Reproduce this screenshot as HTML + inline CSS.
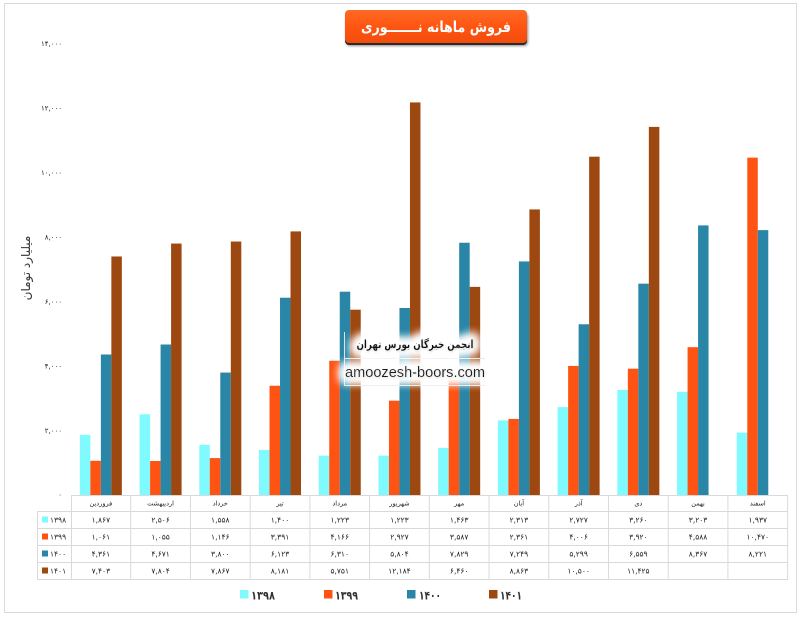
<!DOCTYPE html>
<html>
<head>
<meta charset="utf-8">
<style>
html,body{margin:0;padding:0;background:#fff;}
svg{display:block;}
text{font-family:"DejaVu Sans","Liberation Sans",sans-serif;}
</style>
</head>
<body>
<svg width="800" height="618" viewBox="0 0 800 618" xmlns="http://www.w3.org/2000/svg">
<defs>
<linearGradient id="tg" x1="0" y1="0" x2="0" y2="1">
<stop offset="0" stop-color="#ff6a24"/>
<stop offset="0.5" stop-color="#ff5512"/>
<stop offset="1" stop-color="#f24c0c"/>
</linearGradient>
<filter id="sh" x="-10%" y="-30%" width="120%" height="160%">
<feGaussianBlur stdDeviation="1.2"/>
</filter>
<filter id="glow" x="-20%" y="-100%" width="140%" height="300%">
<feMorphology in="SourceAlpha" operator="dilate" radius="4" result="d"/>
<feGaussianBlur in="d" stdDeviation="5" result="b"/>
<feFlood flood-color="#ffffff"/>
<feComposite in2="b" operator="in" result="w"/>
<feGaussianBlur in="SourceAlpha" stdDeviation="1" result="sb"/>
<feOffset in="sb" dx="0.5" dy="1" result="so"/>
<feFlood flood-color="#000" flood-opacity="0.35"/>
<feComposite in2="so" operator="in" result="ds"/>
<feMerge>
<feMergeNode in="w"/>
<feMergeNode in="w"/>
<feMergeNode in="w"/>
<feMergeNode in="ds"/>
<feMergeNode in="SourceGraphic"/>
</feMerge>
</filter>
</defs>
<rect x="0" y="0" width="800" height="618" fill="#fff"/>
<rect x="4.5" y="3.5" width="792" height="609" fill="none" stroke="#d9d9d9" stroke-width="1"/>

<!-- Title -->
<rect x="346" y="13" width="182" height="33" rx="4" fill="#000" opacity="0.45" filter="url(#sh)"/>
<rect x="345" y="12" width="182" height="33" rx="4" fill="#2a2a2a"/>
<rect x="345" y="10" width="182" height="33" rx="4" fill="url(#tg)"/>
<text x="436" y="32" font-size="15" font-weight="bold" fill="#fff" text-anchor="middle" direction="rtl" textLength="150" lengthAdjust="spacingAndGlyphs">فروش ماهانه نـــــــوری</text>

<!-- Y axis labels -->
<g font-size="7" fill="#222" text-anchor="end">
<text x="62" y="497">۰</text>
<text x="62" y="433">۲,۰۰۰</text>
<text x="62" y="368.5">۴,۰۰۰</text>
<text x="62" y="304">۶,۰۰۰</text>
<text x="62" y="239.5">۸,۰۰۰</text>
<text x="62" y="175">۱۰,۰۰۰</text>
<text x="62" y="110.5">۱۲,۰۰۰</text>
<text x="62" y="46">۱۴,۰۰۰</text>
</g>
<text transform="translate(30,268) rotate(-90)" font-size="12" fill="#333" text-anchor="middle" direction="rtl">میلیارد تومان</text>

<!-- Bars -->
<g>
<g transform="translate(79.86,0)">
<rect x="0" y="434.85" width="10.5" height="60.15" fill="#7ffaff"/>
<rect x="10.5" y="460.81" width="10.5" height="34.19" fill="#ff5314"/>
<rect x="21" y="354.49" width="10.5" height="140.51" fill="#2986a7"/>
<rect x="31.5" y="256.48" width="10.5" height="238.52" fill="#9e4811"/>
</g>
<g transform="translate(139.58,0)">
<rect x="0" y="414.26" width="10.5" height="80.74" fill="#7ffaff"/>
<rect x="10.5" y="461.01" width="10.5" height="33.99" fill="#ff5314"/>
<rect x="21" y="344.5" width="10.5" height="150.5" fill="#2986a7"/>
<rect x="31.5" y="243.56" width="10.5" height="251.44" fill="#9e4811"/>
</g>
<g transform="translate(199.30,0)">
<rect x="0" y="444.8" width="10.5" height="50.2" fill="#7ffaff"/>
<rect x="10.5" y="458.08" width="10.5" height="36.92" fill="#ff5314"/>
<rect x="21" y="372.56" width="10.5" height="122.44" fill="#2986a7"/>
<rect x="31.5" y="241.53" width="10.5" height="253.47" fill="#9e4811"/>
</g>
<g transform="translate(259.02,0)">
<rect x="0" y="449.89" width="10.5" height="45.11" fill="#7ffaff"/>
<rect x="10.5" y="385.74" width="10.5" height="109.26" fill="#ff5314"/>
<rect x="21" y="297.72" width="10.5" height="197.28" fill="#2986a7"/>
<rect x="31.5" y="231.41" width="10.5" height="263.59" fill="#9e4811"/>
</g>
<g transform="translate(318.74,0)">
<rect x="0" y="455.6" width="10.5" height="39.4" fill="#7ffaff"/>
<rect x="10.5" y="360.77" width="10.5" height="134.23" fill="#ff5314"/>
<rect x="21" y="291.69" width="10.5" height="203.31" fill="#2986a7"/>
<rect x="31.5" y="309.7" width="10.5" height="185.3" fill="#9e4811"/>
</g>
<g transform="translate(378.46,0)">
<rect x="0" y="455.6" width="10.5" height="39.4" fill="#7ffaff"/>
<rect x="10.5" y="400.69" width="10.5" height="94.31" fill="#ff5314"/>
<rect x="21" y="308.0" width="10.5" height="187.0" fill="#2986a7"/>
<rect x="31.5" y="102.43" width="10.5" height="392.57" fill="#9e4811"/>
</g>
<g transform="translate(438.18,0)">
<rect x="0" y="447.86" width="10.5" height="47.14" fill="#7ffaff"/>
<rect x="10.5" y="379.43" width="10.5" height="115.57" fill="#ff5314"/>
<rect x="21" y="242.75" width="10.5" height="252.25" fill="#2986a7"/>
<rect x="31.5" y="286.86" width="10.5" height="208.14" fill="#9e4811"/>
</g>
<g transform="translate(497.90,0)">
<rect x="0" y="420.47" width="10.5" height="74.53" fill="#7ffaff"/>
<rect x="10.5" y="418.93" width="10.5" height="76.07" fill="#ff5314"/>
<rect x="21" y="261.44" width="10.5" height="233.56" fill="#2986a7"/>
<rect x="31.5" y="209.43" width="10.5" height="285.57" fill="#9e4811"/>
</g>
<g transform="translate(557.62,0)">
<rect x="0" y="407.14" width="10.5" height="87.86" fill="#7ffaff"/>
<rect x="10.5" y="365.93" width="10.5" height="129.07" fill="#ff5314"/>
<rect x="21" y="324.27" width="10.5" height="170.73" fill="#2986a7"/>
<rect x="31.5" y="156.69" width="10.5" height="338.31" fill="#9e4811"/>
</g>
<g transform="translate(617.34,0)">
<rect x="0" y="389.96" width="10.5" height="105.04" fill="#7ffaff"/>
<rect x="10.5" y="368.7" width="10.5" height="126.3" fill="#ff5314"/>
<rect x="21" y="283.67" width="10.5" height="211.33" fill="#2986a7"/>
<rect x="31.5" y="126.89" width="10.5" height="368.11" fill="#9e4811"/>
</g>
<g transform="translate(677.06,0)">
<rect x="0" y="391.8" width="10.5" height="103.2" fill="#7ffaff"/>
<rect x="10.5" y="347.17" width="10.5" height="147.83" fill="#ff5314"/>
<rect x="21" y="225.42" width="10.5" height="269.58" fill="#2986a7"/>
</g>
<g transform="translate(736.78,0)">
<rect x="0" y="432.59" width="10.5" height="62.41" fill="#7ffaff"/>
<rect x="10.5" y="157.66" width="10.5" height="337.34" fill="#ff5314"/>
<rect x="21" y="230.12" width="10.5" height="264.88" fill="#2986a7"/>
</g>
</g>

<!-- Watermark -->
<g stroke="#e2e2e2" stroke-width="1">
<line x1="344.5" y1="332" x2="344.5" y2="386"/>
<line x1="344" y1="358.5" x2="485" y2="358.5"/>
<line x1="344" y1="385.5" x2="485" y2="385.5"/>
</g>
<text x="415" y="348" font-size="11" font-weight="bold" fill="#111" text-anchor="middle" direction="rtl" textLength="117" lengthAdjust="spacingAndGlyphs" filter="url(#glow)">انجمن خبرگان بورس تهران</text>
<text x="415" y="377" font-size="14.5" fill="#1a1a1a" text-anchor="middle" textLength="140" lengthAdjust="spacingAndGlyphs" style="font-family:'Liberation Sans',sans-serif" filter="url(#glow)">amoozesh-boors.com</text>

<!-- Table lines -->
<g stroke="#d9d9d9" stroke-width="1" fill="none">
<line x1="71" y1="495.5" x2="788" y2="495.5"/>
<line x1="37" y1="511.5" x2="788" y2="511.5"/>
<line x1="37" y1="528.5" x2="788" y2="528.5"/>
<line x1="37" y1="545.5" x2="788" y2="545.5"/>
<line x1="37" y1="562.5" x2="788" y2="562.5"/>
<line x1="37" y1="579.5" x2="788" y2="579.5"/>
<line x1="37.5" y1="511" x2="37.5" y2="580"/>
<line x1="71.5" y1="495" x2="71.5" y2="580"/>
<line x1="130.72" y1="495" x2="130.72" y2="580"/>
<line x1="190.44" y1="495" x2="190.44" y2="580"/>
<line x1="250.16" y1="495" x2="250.16" y2="580"/>
<line x1="309.88" y1="495" x2="309.88" y2="580"/>
<line x1="369.6" y1="495" x2="369.6" y2="580"/>
<line x1="429.32" y1="495" x2="429.32" y2="580"/>
<line x1="489.04" y1="495" x2="489.04" y2="580"/>
<line x1="548.76" y1="495" x2="548.76" y2="580"/>
<line x1="608.48" y1="495" x2="608.48" y2="580"/>
<line x1="668.2" y1="495" x2="668.2" y2="580"/>
<line x1="727.92" y1="495" x2="727.92" y2="580"/>
<line x1="787.64" y1="495" x2="787.64" y2="580"/>
</g>

<!-- Header months -->
<g font-size="6.5" fill="#222" text-anchor="middle" direction="rtl">
<text x="100.86" y="505.5">فروردین</text>
<text x="160.58" y="505.5">اردیبهشت</text>
<text x="220.30" y="505.5">خرداد</text>
<text x="280.02" y="505.5">تیر</text>
<text x="339.74" y="505.5">مرداد</text>
<text x="399.46" y="505.5">شهریور</text>
<text x="459.18" y="505.5">مهر</text>
<text x="518.90" y="505.5">آبان</text>
<text x="578.62" y="505.5">آذر</text>
<text x="638.34" y="505.5">دی</text>
<text x="698.06" y="505.5">بهمن</text>
<text x="757.78" y="505.5">اسفند</text>
</g>

<!-- Row labels -->
<rect x="42" y="516.5" width="6" height="6" fill="#7ffaff"/>
<rect x="42" y="533.5" width="6" height="6" fill="#ff5314"/>
<rect x="42" y="550.5" width="6" height="6" fill="#2986a7"/>
<rect x="42" y="567.5" width="6" height="6" fill="#9e4811"/>
<g font-size="7.5" fill="#222">
<text x="50" y="522.5">۱۳۹۸</text>
<text x="50" y="539.5">۱۳۹۹</text>
<text x="50" y="556.5">۱۴۰۰</text>
<text x="50" y="573.5">۱۴۰۱</text>
</g>

<!-- Table values -->
<g font-size="7.5" fill="#1a1a1a" text-anchor="middle">
<text x="100.86" y="522.5">۱,۸۶۷</text>
<text x="160.58" y="522.5">۲,۵۰۶</text>
<text x="220.30" y="522.5">۱,۵۵۸</text>
<text x="280.02" y="522.5">۱,۴۰۰</text>
<text x="339.74" y="522.5">۱,۲۲۳</text>
<text x="399.46" y="522.5">۱,۲۲۳</text>
<text x="459.18" y="522.5">۱,۴۶۳</text>
<text x="518.90" y="522.5">۲,۳۱۳</text>
<text x="578.62" y="522.5">۲,۷۲۷</text>
<text x="638.34" y="522.5">۳,۲۶۰</text>
<text x="698.06" y="522.5">۳,۲۰۳</text>
<text x="757.78" y="522.5">۱,۹۳۷</text>

<text x="100.86" y="539.5">۱,۰۶۱</text>
<text x="160.58" y="539.5">۱,۰۵۵</text>
<text x="220.30" y="539.5">۱,۱۴۶</text>
<text x="280.02" y="539.5">۳,۳۹۱</text>
<text x="339.74" y="539.5">۴,۱۶۶</text>
<text x="399.46" y="539.5">۲,۹۲۷</text>
<text x="459.18" y="539.5">۳,۵۸۷</text>
<text x="518.90" y="539.5">۲,۳۶۱</text>
<text x="578.62" y="539.5">۴,۰۰۶</text>
<text x="638.34" y="539.5">۳,۹۲۰</text>
<text x="698.06" y="539.5">۴,۵۸۸</text>
<text x="757.78" y="539.5">۱۰,۴۷۰</text>

<text x="100.86" y="556.5">۴,۳۶۱</text>
<text x="160.58" y="556.5">۴,۶۷۱</text>
<text x="220.30" y="556.5">۳,۸۰۰</text>
<text x="280.02" y="556.5">۶,۱۲۳</text>
<text x="339.74" y="556.5">۶,۳۱۰</text>
<text x="399.46" y="556.5">۵,۸۰۴</text>
<text x="459.18" y="556.5">۷,۸۲۹</text>
<text x="518.90" y="556.5">۷,۲۴۹</text>
<text x="578.62" y="556.5">۵,۲۹۹</text>
<text x="638.34" y="556.5">۶,۵۵۹</text>
<text x="698.06" y="556.5">۸,۳۶۷</text>
<text x="757.78" y="556.5">۸,۲۲۱</text>

<text x="100.86" y="573.5">۷,۴۰۳</text>
<text x="160.58" y="573.5">۷,۸۰۴</text>
<text x="220.30" y="573.5">۷,۸۶۷</text>
<text x="280.02" y="573.5">۸,۱۸۱</text>
<text x="339.74" y="573.5">۵,۷۵۱</text>
<text x="399.46" y="573.5">۱۲,۱۸۴</text>
<text x="459.18" y="573.5">۶,۴۶۰</text>
<text x="518.90" y="573.5">۸,۸۶۳</text>
<text x="578.62" y="573.5">۱۰,۵۰۰</text>
<text x="638.34" y="573.5">۱۱,۴۲۵</text>
</g>

<!-- Bottom legend -->
<rect x="240" y="590" width="8.5" height="8.5" fill="#7ffaff"/>
<rect x="324" y="590" width="8.5" height="8.5" fill="#ff5314"/>
<rect x="407" y="590" width="8.5" height="8.5" fill="#2986a7"/>
<rect x="489" y="590" width="8.5" height="8.5" fill="#9e4811"/>
<g font-size="12" font-weight="bold" fill="#333">
<text x="251" y="599.5" textLength="24" lengthAdjust="spacingAndGlyphs">۱۳۹۸</text>
<text x="335" y="599.5" textLength="23" lengthAdjust="spacingAndGlyphs">۱۳۹۹</text>
<text x="419" y="599.5" textLength="22" lengthAdjust="spacingAndGlyphs">۱۴۰۰</text>
<text x="500" y="599.5" textLength="22" lengthAdjust="spacingAndGlyphs">۱۴۰۱</text>
</g>
</svg>
</body>
</html>
